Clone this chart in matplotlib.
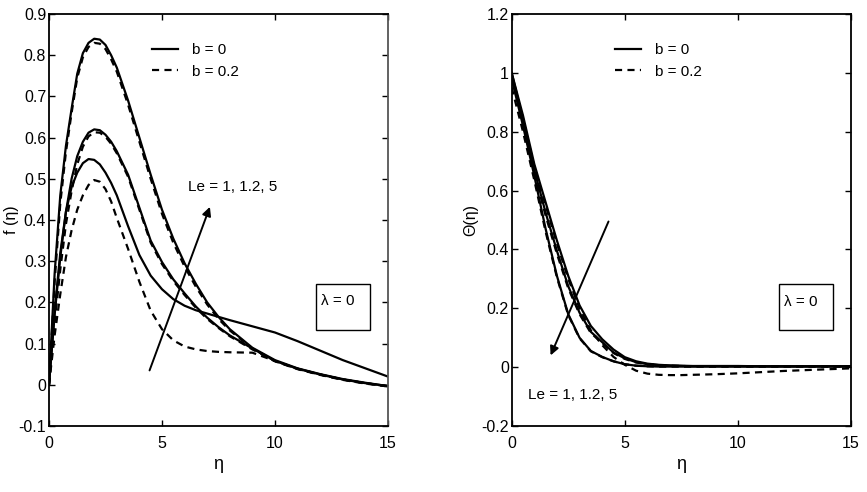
import matplotlib
matplotlib.use("Agg")
import matplotlib.pyplot as plt
from matplotlib.patches import Rectangle

plt.rcParams['font.family'] = ['Liberation Sans', 'DejaVu Sans']

# ---------------- data: left panel f(eta) ----------------
eta_f = [0, 0.25, 0.5, 0.75, 1, 1.25, 1.5, 1.75, 2, 2.25, 2.5, 2.75, 3, 3.5, 4, 4.5,
         5, 5.5, 6, 6.5, 7, 7.5, 8, 9, 10, 11, 12, 13, 14, 15]
f_b0_le1 = [0, 0.27, 0.46, 0.58, 0.67, 0.755, 0.805, 0.83, 0.84, 0.838, 0.825, 0.80, 0.77, 0.69, 0.60, 0.51,
            0.425, 0.355, 0.295, 0.245, 0.20, 0.165, 0.135, 0.09, 0.06, 0.04, 0.026, 0.014, 0.005, -0.003]
f_b02_le1 = [0, 0.25, 0.44, 0.565, 0.66, 0.745, 0.795, 0.82, 0.83, 0.828, 0.815, 0.79, 0.76, 0.68, 0.59, 0.50,
             0.415, 0.345, 0.287, 0.238, 0.195, 0.16, 0.132, 0.088, 0.058, 0.039, 0.025, 0.013, 0.004, -0.004]
f_b0_le12 = [0, 0.17, 0.31, 0.42, 0.50, 0.555, 0.59, 0.612, 0.62, 0.618, 0.607, 0.59, 0.567, 0.51, 0.43, 0.35,
             0.298, 0.256, 0.222, 0.19, 0.163, 0.14, 0.12, 0.088, 0.058, 0.039, 0.025, 0.013, 0.004, -0.003]
f_b02_le12 = [0, 0.15, 0.28, 0.39, 0.47, 0.535, 0.578, 0.603, 0.613, 0.612, 0.602, 0.585, 0.562, 0.505, 0.425, 0.345,
              0.293, 0.252, 0.218, 0.187, 0.16, 0.138, 0.118, 0.086, 0.057, 0.038, 0.024, 0.012, 0.003, -0.004]
f_b0_le5 = [0, 0.18, 0.32, 0.42, 0.48, 0.515, 0.538, 0.548, 0.546, 0.535, 0.515, 0.49, 0.46, 0.385, 0.315, 0.265,
            0.232, 0.208, 0.192, 0.181, 0.173, 0.165, 0.157, 0.142, 0.127, 0.106, 0.083, 0.06, 0.04, 0.02]
f_b02_le5 = [0, 0.12, 0.22, 0.31, 0.375, 0.425, 0.46, 0.485, 0.497, 0.493, 0.475, 0.445, 0.405, 0.33, 0.25, 0.18,
             0.135, 0.108, 0.093, 0.086, 0.082, 0.08, 0.079, 0.078, 0.058, 0.039, 0.025, 0.013, 0.004, -0.003]

# ---------------- data: right panel theta(eta) ----------------
eta_t = [0, 0.5, 1, 1.5, 2, 2.5, 3, 3.5, 4, 4.5, 5, 5.5, 6, 6.5, 7, 7.5, 8, 9, 10, 11, 12, 13, 14, 15]
t_b0_le1 = [1.0, 0.855, 0.69, 0.56, 0.43, 0.31, 0.21, 0.14, 0.095, 0.06, 0.034, 0.02, 0.012, 0.008, 0.006,
            0.005, 0.004, 0.004, 0.004, 0.003, 0.003, 0.003, 0.003, 0.003]
t_b02_le1 = [0.99, 0.845, 0.68, 0.55, 0.42, 0.30, 0.20, 0.125, 0.075, 0.035, 0.008, -0.012, -0.022, -0.026,
             -0.027, -0.027, -0.026, -0.024, -0.021, -0.017, -0.013, -0.01, -0.007, -0.004]
t_b0_le12 = [1.0, 0.84, 0.67, 0.525, 0.395, 0.275, 0.185, 0.12, 0.085, 0.05, 0.03, 0.017, 0.01, 0.007, 0.005,
             0.004, 0.003, 0.003, 0.003, 0.003, 0.003, 0.003, 0.003, 0.003]
t_b02_le12 = [0.99, 0.83, 0.66, 0.515, 0.385, 0.268, 0.18, 0.116, 0.082, 0.048, 0.028, 0.016, 0.01, 0.007,
              0.005, 0.004, 0.003, 0.003, 0.003, 0.003, 0.003, 0.003, 0.003, 0.003]
t_b0_le5 = [0.98, 0.82, 0.65, 0.47, 0.31, 0.18, 0.10, 0.055, 0.035, 0.02, 0.01, 0.005, 0.003, 0.002, 0.002,
            0.002, 0.002, 0.002, 0.002, 0.002, 0.002, 0.002, 0.002, 0.002]
t_b02_le5 = [0.95, 0.80, 0.635, 0.46, 0.305, 0.177, 0.098, 0.054, 0.034, 0.02, 0.01, 0.005, 0.003, 0.002,
             0.002, 0.002, 0.002, 0.002, 0.002, 0.002, 0.002, 0.002, 0.002, 0.002]

f_yticks = [-0.1, 0, 0.1, 0.2, 0.3, 0.4, 0.5, 0.6, 0.7, 0.8, 0.9]
f_yticklabels = ["-0.1", "0", "0.1", "0.2", "0.3", "0.4", "0.5", "0.6", "0.7", "0.8", "0.9"]
t_yticks = [-0.2, 0, 0.2, 0.4, 0.6, 0.8, 1.0, 1.2]
t_yticklabels = ["-0.2", "0", "0.2", "0.4", "0.6", "0.8", "1", "1.2"]
xticks = [0, 5, 10, 15]
xticklabels = ["0", "5", "10", "15"]

fig = plt.figure(figsize=(8.67, 4.92), dpi=100)
axL = fig.add_axes([0.0565, 0.1341, 0.391, 0.8374])
axR = fig.add_axes([0.5902, 0.1341, 0.3913, 0.8374])

LW = 1.6
DASH = (3.2, 2.4)

def style(ax, yticks, ylabels, ylim):
    ax.set_xlim(0, 15)
    ax.set_ylim(*ylim)
    ax.set_xticks(xticks)
    ax.set_xticklabels(xticklabels)
    ax.set_yticks(yticks)
    ax.set_yticklabels(ylabels)
    ax.tick_params(direction='in', top=True, right=True, length=4, width=1.0,
                   labelsize=11.5, colors='black')
    ax.tick_params(axis='x', pad=7)
    ax.tick_params(axis='y', pad=2)
    for s in ax.spines.values():
        s.set_linewidth(1.3)
        s.set_color('black')
    ax.set_xlabel("η", fontsize=13, labelpad=4)

# left panel
l1, = axL.plot(eta_f, f_b0_le1, color='k', lw=LW, label='b = 0')
l2, = axL.plot(eta_f, f_b02_le1, color='k', lw=LW, ls=(0, DASH), label='b = 0.2')
axL.plot(eta_f, f_b0_le12, color='k', lw=LW)
axL.plot(eta_f, f_b02_le12, color='k', lw=LW, ls=(0, DASH))
axL.plot(eta_f, f_b0_le5, color='k', lw=LW)
axL.plot(eta_f, f_b02_le5, color='k', lw=LW, ls=(0, DASH))
style(axL, f_yticks, f_yticklabels, (-0.1, 0.9))
axL.spines['right'].set_color('#555555')
axL.set_ylabel("f (η)", fontsize=11.5)
axL.yaxis.set_label_coords(-0.088, 0.5)
axL.annotate('', xy=(7.12, 0.432), xytext=(4.45, 0.035),
             arrowprops=dict(arrowstyle='-|>', lw=1.4, color='k', mutation_scale=13,
                             shrinkA=0, shrinkB=0))
axL.text(6.15, 0.48, "Le = 1, 1.2, 5", fontsize=11, va='center', ha='left')
axL.add_patch(Rectangle((11.8, 0.133), 2.4, 0.112, fill=False, lw=1.0, ec='k'))
axL.text(12.05, 0.203, "λ = 0", fontsize=11, va='center', ha='left')
axL.legend(handles=[l1, l2], loc='upper left', bbox_to_anchor=(0.305, 0.93),
           frameon=False, fontsize=11, handlelength=1.7, handletextpad=0.9,
           labelspacing=0.5, borderpad=0, borderaxespad=0)

# right panel
r1, = axR.plot(eta_t, t_b0_le1, color='k', lw=LW, label='b = 0')
r2, = axR.plot(eta_t, t_b02_le1, color='k', lw=LW, ls=(0, DASH), label='b = 0.2')
axR.plot(eta_t, t_b0_le12, color='k', lw=LW)
axR.plot(eta_t, t_b02_le12, color='k', lw=LW, ls=(0, DASH))
axR.plot(eta_t, t_b0_le5, color='k', lw=LW)
axR.plot(eta_t, t_b02_le5, color='k', lw=LW, ls=(0, DASH))
style(axR, t_yticks, t_yticklabels, (-0.2, 1.2))
axR.set_ylabel("Θ(η)", fontsize=11.5)
axR.yaxis.set_label_coords(-0.1, 0.5)
axR.annotate('', xy=(1.72, 0.04), xytext=(4.28, 0.495),
             arrowprops=dict(arrowstyle='-|>', lw=1.4, color='k', mutation_scale=13,
                             shrinkA=0, shrinkB=0))
axR.text(0.72, -0.095, "Le = 1, 1.2, 5", fontsize=11, va='center', ha='left')
axR.add_patch(Rectangle((11.8, 0.126), 2.4, 0.156, fill=False, lw=1.0, ec='k'))
axR.text(12.05, 0.222, "λ = 0", fontsize=11, va='center', ha='left')
axR.legend(handles=[r1, r2], loc='upper left', bbox_to_anchor=(0.305, 0.93),
           frameon=False, fontsize=11, handlelength=1.7, handletextpad=0.9,
           labelspacing=0.5, borderpad=0, borderaxespad=0)

fig.savefig("out.png", dpi=100)
